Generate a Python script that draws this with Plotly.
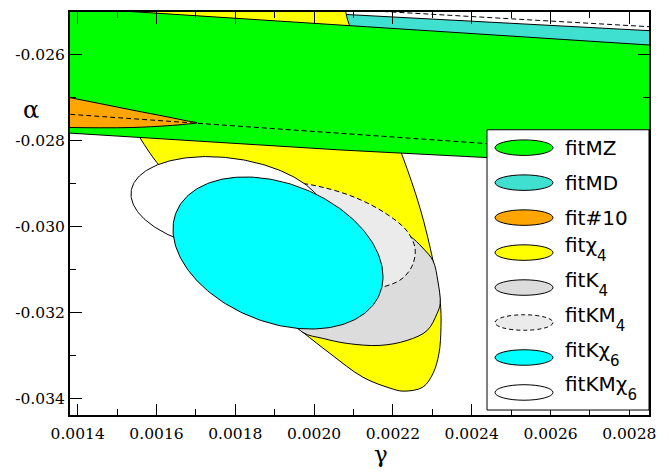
import numpy as np
import plotly.graph_objects as go

# ---------------- axis ticks ----------------
gamma_ticks = [0.0014, 0.0016, 0.0018, 0.0020, 0.0022, 0.0024, 0.0026, 0.0028]
gamma_ticktext = ["0.0014", "0.0016", "0.0018", "0.0020", "0.0022", "0.0024", "0.0026", "0.0028"]
alpha_ticks = [-0.026, -0.028, -0.030, -0.032, -0.034]
alpha_ticktext = ["-0.026", "-0.028", "-0.030", "-0.032", "-0.034"]
gamma_range = [0.0013805, 0.00285]
alpha_range = [-0.034387, -0.0250]

# ---------------- confidence regions (boundary points, gamma / alpha) ----------------
fitMD_gamma = [0.001837, 0.002979, 0.002979, 0.001837]
fitMD_alpha = [-0.024938, -0.025498, -0.026400, -0.025706]

fitchi4_gamma = [0.001444, 0.0017485, 0.0020606, 0.002089, 0.002155, 0.002223, 0.002269,
                 0.002302, 0.002320, 0.002322, 0.002317, 0.002302, 0.002276, 0.002226,
                 0.002193, 0.002124, 0.002040, 0.001969, 0.001837, 0.001710, 0.001634,
                 0.001601, 0.001558, 0.001507, 0.0014693]
fitchi4_alpha = [-0.024549, -0.024086, -0.024664, -0.025289, -0.026748, -0.028322, -0.029572,
                 -0.030799, -0.031725, -0.032350, -0.032951, -0.033414, -0.033738, -0.033831,
                 -0.033762, -0.033507, -0.032951, -0.032442, -0.031493, -0.029873, -0.028831,
                 -0.028507, -0.027928, -0.027095, -0.025938]

fitMZ_gamma = [0.001203, 0.002979, 0.002979, 0.002439, 0.002066, 0.001710, 0.0013805, 0.001203]
fitMZ_alpha = [-0.024792, -0.025845, -0.028623, -0.028391, -0.028213, -0.028009, -0.027813, -0.027720]

fit10_gamma = [0.001304, 0.0013805, 0.001457, 0.001540, 0.001627, 0.001677, 0.001703,
               0.001677, 0.001627, 0.001540, 0.001457, 0.0013805, 0.001304]
fit10_alpha = [-0.026863, -0.026995, -0.027134, -0.027287, -0.027442, -0.027535, -0.027581,
               -0.027611, -0.027650, -0.027690, -0.027697, -0.027690, -0.027674]

dashed_gamma = [0.001203, 0.002198, 0.002850, 0.002979, 0.002979, 0.002439, 0.002066,
                0.001703, 0.0013805, 0.001203]
dashed_alpha = [-0.024477, -0.025000, -0.025343, -0.025410, -0.028414, -0.028067, -0.027829,
                -0.027581, -0.027380, -0.027269]

fitK4_gamma = [0.002243, 0.002276, 0.002302, 0.002314, 0.002320, 0.002312, 0.002287, 0.002236,
               0.002167, 0.002084, 0.002023, 0.001972, 0.001926, 0.001888, 0.001939, 0.002066,
               0.002142, 0.002205]
fitK4_alpha = [-0.030220, -0.030498, -0.030799, -0.031262, -0.031794, -0.032025, -0.032419,
               -0.032650, -0.032766, -0.032720, -0.032604, -0.032465, -0.031956, -0.030799,
               -0.029525, -0.029502, -0.029780, -0.030058]

fitKM4_gamma = [0.001901, 0.001952, 0.002023, 0.002109, 0.002185, 0.002236, 0.002256, 0.002251,
                0.002226, 0.002185, 0.002104, 0.001990, 0.001888, 0.001868]
fitKM4_alpha = [-0.029132, -0.028993, -0.029086, -0.029340, -0.029711, -0.030104, -0.030498,
                -0.030868, -0.031192, -0.031377, -0.031493, -0.031146, -0.030220, -0.029525]

# elliptical fits: centre (gamma, alpha), half-widths, correlation
fitKMchi6_center = [0.0017815, -0.0294791]
fitKMchi6_sigma = [0.0002462, 0.0011111]
fitKMchi6_rho = -0.2148

fitKchi6_center = [0.0019084, -0.0306134]
fitKchi6_sigma = [0.0002665, 0.0017708]
fitKchi6_rho = -0.3112

# ---------------- legend ----------------
legend_base = ["fitMZ", "fitMD", "fit#10", "fitχ", "fitK", "fitKM", "fitKχ", "fitKMχ"]
legend_sub = ["", "", "", "4", "4", "4", "6", "6"]
legend_colors = ["#00ff00", "#40e0d0", "#ffa500", "#ffff00", "#dcdcdc", "#ebebeb",
                 "#00ffff", "#ffffff"]
legend_dash = ["solid", "solid", "solid", "solid", "solid", "dash", "solid", "solid"]


def closed(v):
    v = list(v)
    return v + [v[0]]


def ellipse(center, sigma, rho, n=241):
    t = np.linspace(0, 2 * np.pi, n)
    x = center[0] + sigma[0] * np.cos(t)
    y = center[1] + sigma[1] * (rho * np.cos(t) + np.sqrt(1 - rho ** 2) * np.sin(t))
    return x, y


def region(x, y, color, shape="spline", dash="solid"):
    return go.Scatter(x=closed(x), y=closed(y), mode="lines", fill="toself",
                      fillcolor=color,
                      line=dict(color="black", width=1, shape=shape, dash=dash),
                      hoverinfo="skip", showlegend=False)


fig = go.Figure()
fig.add_trace(region(fitMD_gamma, fitMD_alpha, legend_colors[1], shape="linear"))
fig.add_trace(region(fitchi4_gamma, fitchi4_alpha, legend_colors[3]))
fig.add_trace(region(fitMZ_gamma, fitMZ_alpha, legend_colors[0], shape="linear"))
fig.add_trace(region(fit10_gamma, fit10_alpha, legend_colors[2]))
fig.add_trace(go.Scatter(x=closed(dashed_gamma), y=closed(dashed_alpha), mode="lines",
                         line=dict(color="black", width=1, dash="5px,3px"),
                         hoverinfo="skip", showlegend=False))
fig.add_trace(region(fitK4_gamma, fitK4_alpha, legend_colors[4]))
fig.add_trace(region(fitKM4_gamma, fitKM4_alpha, legend_colors[5], dash="5px,3px"))
ex, ey = ellipse(fitKMchi6_center, fitKMchi6_sigma, fitKMchi6_rho)
fig.add_trace(region(ex, ey, legend_colors[7], shape="linear"))
ex, ey = ellipse(fitKchi6_center, fitKchi6_sigma, fitKchi6_rho)
fig.add_trace(region(ex, ey, legend_colors[6], shape="linear"))

# page body has an 8px margin: figure is 660x466 placed at (8, 8)
OFF = 8
W, H = 668 - OFF, 474 - OFF
plot_l, plot_r, plot_t, plot_b = 70 - OFF, 649 - OFF, 9.5 - OFF, 415 - OFF
pw, ph = plot_r - plot_l, plot_b - plot_t


def px(xp):
    return (xp - OFF - plot_l) / pw


def py(yp):
    return 1 - (yp - OFF - plot_t) / ph


shapes = [dict(type="rect", xref="paper", yref="paper", x0=px(487), x1=px(649),
               y0=py(410), y1=py(128), fillcolor="white",
               line=dict(color="black", width=1), layer="above")]
annotations = []
for i, (base, sub, col, dsh) in enumerate(zip(legend_base, legend_sub, legend_colors,
                                               legend_dash)):
    yc = 146 + i * 35.19
    shapes.append(dict(type="circle", xref="paper", yref="paper",
                       x0=px(495), x1=px(553), y0=py(yc + 7.8), y1=py(yc - 7.8),
                       fillcolor=col, line=dict(color="black", width=1,
                                                dash="4px,3px" if dsh == "dash" else "solid"),
                       layer="above"))
    if sub:
        text = (base + "<sub><span style='font-size:15px;baseline-shift:-5px'>"
                + sub + "</span></sub>")
        ytxt = yc - 4
    else:
        text = base
        ytxt = yc
    annotations.append(dict(xref="paper", yref="paper", x=px(563), y=py(ytxt),
                            xanchor="left", yanchor="middle", text=text, showarrow=False,
                            font=dict(family="DejaVu Sans", size=20, color="black")))

annotations.append(dict(xref="paper", yref="paper", x=px(31), y=py(108), text="α",
                        showarrow=False, xanchor="center", yanchor="middle",
                        font=dict(family="DejaVu Serif", size=24, color="black")))
annotations.append(dict(xref="paper", yref="paper", x=px(381), y=py(454), text="γ",
                        showarrow=False, xanchor="center", yanchor="middle",
                        font=dict(family="DejaVu Serif", size=23, color="black")))

axis_common = dict(showline=True, linewidth=2, linecolor="black", mirror="ticks",
                   ticks="inside", ticklen=11.5, tickwidth=1.3, tickcolor="black",
                   showgrid=False, zeroline=False,
                   tickfont=dict(family="DejaVu Serif", size=15.5, color="black"))

fig.update_layout(
    width=W, height=H,
    margin=dict(l=plot_l, r=W - plot_r, t=plot_t, b=H - plot_b, pad=0),
    paper_bgcolor="white", plot_bgcolor="white",
    hovermode=False,
    shapes=shapes, annotations=annotations,
    xaxis=dict(range=gamma_range, tickmode="array", tickvals=gamma_ticks,
               ticktext=gamma_ticktext, ticklabelstandoff=3,
               minor=dict(ticks="inside", ticklen=6, tickwidth=1.3, tickcolor="black",
                          tickmode="linear", tick0=0.0014, dtick=0.0001, showgrid=False),
               **axis_common),
    yaxis=dict(range=alpha_range, tickmode="array", tickvals=alpha_ticks,
               ticktext=alpha_ticktext,
               minor=dict(ticks="inside", ticklen=6, tickwidth=1.3, tickcolor="black",
                          tickmode="linear", tick0=-0.026, dtick=0.001, showgrid=False),
               **axis_common),
)

fig.write_html("out.html")
